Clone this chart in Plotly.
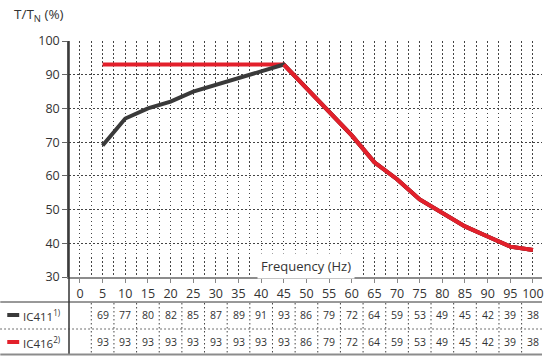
import plotly.graph_objects as go

freq = [5, 10, 15, 20, 25, 30, 35, 40, 45, 50, 55, 60, 65, 70, 75, 80, 85, 90, 95, 100]
ic411 = [69, 77, 80, 82, 85, 87, 89, 91, 93, 86, 79, 72, 64, 59, 53, 49, 45, 42, 39, 38]
ic416 = [93, 93, 93, 93, 93, 93, 93, 93, 93, 86, 79, 72, 64, 59, 53, 49, 45, 42, 39, 38]
xticks = [0, 5, 10, 15, 20, 25, 30, 35, 40, 45, 50, 55, 60, 65, 70, 75, 80, 85, 90, 95, 100]
yticks = [30, 40, 50, 60, 70, 80, 90, 100]
series_names = ["IC411<sup>1)</sup>", "IC416<sup>2)</sup>"]
series_colors = ["#3a3a3a", "#e3202b"]

W, H = 544, 356
ML, MR, MT, MB = 69, 0, 41, 79
PH = H - MT - MB
PW = W - ML - MR
FONT = "Open Sans"
TXT = "#333333"
DOT = "1.5px,2.5px"
GRIDC = "#444444"

def py2paper(py):
    return (H - MB - py) / PH

def px2paper(px):
    return (px - ML) / PW

fig = go.Figure()
fig.add_trace(go.Scatter(x=freq, y=ic416, mode="lines",
                         line=dict(color=series_colors[1], width=4), showlegend=False))
fig.add_trace(go.Scatter(x=freq, y=ic411, mode="lines",
                         line=dict(color=series_colors[0], width=4), showlegend=False))
fig.add_trace(go.Scatter(x=freq[8:], y=ic416[8:], mode="lines",
                         line=dict(color=series_colors[1], width=4), showlegend=False))

grid = dict(showgrid=True, griddash=DOT, gridcolor=GRIDC, gridwidth=1)
fig.update_xaxes(range=[-2.42, 102], tickvals=xticks, ticktext=[str(t) for t in xticks],
                 ticks="outside", ticklen=4, tickcolor="#888888", tickwidth=1,
                 showline=True, linecolor="#8c8c8c", linewidth=2, zeroline=False,
                 ticklabeloverflow="allow",
                 minor=dict(tick0=2.5, dtick=5, showgrid=True, griddash=DOT,
                            gridcolor=GRIDC, gridwidth=1, ticklen=0),
                 tickfont=dict(family=FONT, size=12.5, color=TXT), **grid)
fig.update_yaxes(range=[30, 100], tickvals=yticks, ticks="outside", ticklen=5,
                 tickcolor="#666666", showline=True, linecolor="#555555", linewidth=1.5,
                 zeroline=False, tickfont=dict(family=FONT, size=12.5, color=TXT), **grid)

shapes = []
shapes.append(dict(type="line", xref="paper", yref="paper", x0=0, x1=0,
                   y0=1, y1=py2paper(355), line=dict(color="#333333", width=1.5)))
shapes.append(dict(type="line", xref="paper", yref="paper", x0=px2paper(0), x1=1,
                   y0=py2paper(302), y1=py2paper(302), line=dict(color="#333333", width=1)))
shapes.append(dict(type="line", xref="paper", yref="paper", x0=px2paper(0), x1=1,
                   y0=py2paper(329), y1=py2paper(329), line=dict(color=GRIDC, width=1, dash=DOT)))
shapes.append(dict(type="line", xref="paper", yref="paper", x0=px2paper(0), x1=1,
                   y0=py2paper(354.5), y1=py2paper(354.5), line=dict(color="#8c8c8c", width=2)))
seps = [freq[0] - 2.5] + [f + 2.5 for f in freq[:-1]]
for s in seps:
    shapes.append(dict(type="line", xref="x", yref="paper", x0=s, x1=s,
                       y0=py2paper(303), y1=py2paper(353),
                       line=dict(color=GRIDC, width=1, dash=DOT)))
for i, c in enumerate(series_colors):
    yy = py2paper(315 + i * 27)
    shapes.append(dict(type="line", xref="paper", yref="paper", x0=px2paper(7), x1=px2paper(19),
                       y0=yy, y1=yy, line=dict(color=c, width=4)))

ann = []
ann.append(dict(text="T/T<sub>N</sub> (%)", xref="paper", yref="paper", x=px2paper(12),
                y=py2paper(15), xanchor="left", yanchor="middle", showarrow=False,
                font=dict(family=FONT, size=13.5, color=TXT)))
ann.append(dict(text="Frequency (Hz)", xref="x", yref="paper", x=50, y=py2paper(266),
                xanchor="center", yanchor="middle", showarrow=False,
                bgcolor="white", borderpad=3,
                font=dict(family=FONT, size=13, color=TXT)))
for i, (name, vals) in enumerate(zip(series_names, [ic411, ic416])):
    yy = py2paper(315 + i * 27)
    ann.append(dict(text=name, xref="paper", yref="paper", x=px2paper(21), y=yy,
                    xanchor="left", yanchor="middle", showarrow=False,
                    font=dict(family=FONT, size=11.5, color=TXT)))
    for f, v in zip(freq, vals):
        ann.append(dict(text=str(v), xref="x", yref="paper", x=f, y=yy,
                        xanchor="center", yanchor="middle", showarrow=False,
                        font=dict(family=FONT, size=10.5, color=TXT)))

fig.update_layout(width=W, height=H, margin=dict(l=ML, r=MR, t=MT, b=MB),
                  paper_bgcolor="white", plot_bgcolor="white", showlegend=False,
                  shapes=shapes, annotations=ann)
fig.write_html("out.html", config={"displayModeBar": False},
               post_script="document.body.style.margin='0';document.body.style.overflow='hidden';")
